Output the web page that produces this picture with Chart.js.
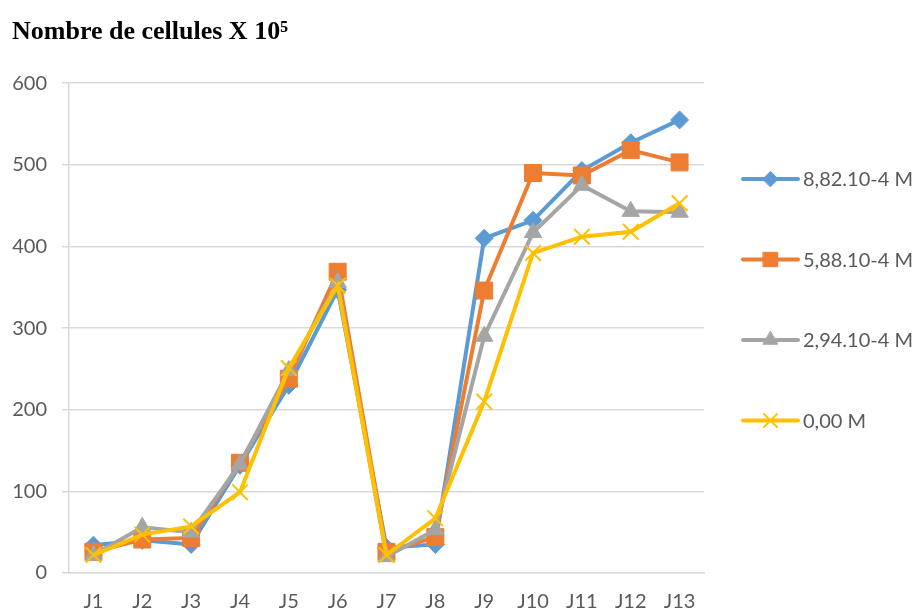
<!DOCTYPE html>
<html>
<head>
<meta charset="utf-8">
<script src="https://cdn.jsdelivr.net/npm/chart.js@4/dist/chart.umd.min.js"></script>
<style>
  html, body { margin: 0; padding: 0; background: #fff; }
  #wrap { width: 922px; height: 608px; position: relative; }
</style>
</head>
<body>
<div id="wrap"><canvas id="cellChart"></canvas></div>
<script>
// chart data
const days = ['J1', 'J2', 'J3', 'J4', 'J5', 'J6', 'J7', 'J8', 'J9', 'J10', 'J11', 'J12', 'J13'];
const seriesNames = ['8,82.10-4 M', '5,88.10-4 M', '2,94.10-4 M', '0,00 M'];
const conc882 = [34, 40, 35, 132, 230, 347, 31, 35, 410, 432, 493, 527, 555];
const conc588 = [26, 41, 43, 135, 238, 369, 26, 44, 346, 490, 487, 518, 503];
const conc294 = [22, 56, 50, 133, 248, 356, 20, 53, 290, 417, 475, 443, 442];
const conc000 = [22, 47, 57, 99, 251, 352, 22, 67, 210, 392, 412, 418, 453];
const yTicks = [0, 100, 200, 300, 400, 500, 600];

const colors = ['#5B9BD5', '#ED7D31', '#A5A5A5', '#FFC000'];
const markers = [
    { pointStyle: 'rectRot', radius: 9 },
    { pointStyle: 'rect', radius: 12 },
    { pointStyle: 'triangle', radius: 10 },
    { pointStyle: 'crossRot', radius: 11 }
];
const allSeries = [conc882, conc588, conc294, conc000];

const tickColor = '#595959';
const gridColor = '#d9d9d9';

// legend drawn by hand: line with marker in the middle, like the office chart
const lineLegend = {
    id: 'lineLegend',
    afterDraw(chart) {
        const ctx = chart.ctx;
        const x0 = chart.chartArea.right + 39;
        ctx.save();
        seriesNames.forEach((name, i) => {
            const y = 179 + i * 80.5;
            ctx.strokeStyle = colors[i];
            ctx.lineWidth = 4;
            ctx.lineCap = 'round';
            ctx.beginPath();
            ctx.moveTo(x0, y);
            ctx.lineTo(x0 + 55, y);
            ctx.stroke();
            ctx.fillStyle = colors[i];
            ctx.lineWidth = i === 3 ? 2 : 1;
            Chart.helpers.drawPoint(ctx, {
                pointStyle: markers[i].pointStyle,
                radius: markers[i].radius * 0.85,
                rotation: 0,
                borderWidth: ctx.lineWidth
            }, x0 + 27.5, y);
            ctx.fillStyle = tickColor;
            ctx.font = '20px Lato';
            ctx.textBaseline = 'middle';
            ctx.textAlign = 'left';
            ctx.fillText(name, x0 + 60, y + 1);
        });
        ctx.restore();
    }
};

const ctx = document.getElementById('cellChart').getContext('2d');
new Chart(ctx, {
    type: 'line',
    data: {
        labels: days,
        datasets: allSeries.map((vals, i) => ({
            label: seriesNames[i],
            data: vals,
            borderColor: colors[i],
            backgroundColor: colors[i],
            borderWidth: 4,
            pointStyle: markers[i].pointStyle,
            pointRadius: markers[i].radius,
            pointHoverRadius: markers[i].radius,
            pointBackgroundColor: colors[i],
            pointBorderColor: colors[i],
            pointBorderWidth: i === 3 ? 2 : 1,
            tension: 0,
            order: 3 - i
        }))
    },
    options: {
        responsive: true,
        maintainAspectRatio: false,
        animation: false,
        layout: { padding: { left: 12, right: 218, top: 0, bottom: 0 } },
        plugins: {
            legend: { display: false },
            tooltip: { enabled: false },
            title: {
                display: true,
                text: 'Nombre de cellules X 10⁵',
                align: 'start',
                color: '#000',
                font: { family: 'Liberation Serif', size: 26, weight: 'bold' },
                padding: { top: 17, bottom: 35 }
            }
        },
        scales: {
            x: {
                offset: true,
                grid: { display: true, drawOnChartArea: false, drawTicks: false, offset: true },
                border: { color: gridColor, width: 1.5 },
                ticks: { color: tickColor, font: { family: 'Lato', size: 20 }, padding: 17, maxRotation: 0 },
                afterFit: s => { s.height = 35; }
            },
            y: {
                min: 0,
                max: 600,
                afterBuildTicks: s => { s.ticks = yTicks.map(v => ({ value: v })); },
                grid: { color: gridColor, lineWidth: 1.5, tickLength: 7 },
                border: { color: gridColor, width: 1.5 },
                ticks: { color: tickColor, font: { family: 'Lato', size: 20 }, padding: 15 },
                afterFit: s => { s.width = 57; }
            }
        }
    },
    plugins: [lineLegend]
});
</script>
</body>
</html>
